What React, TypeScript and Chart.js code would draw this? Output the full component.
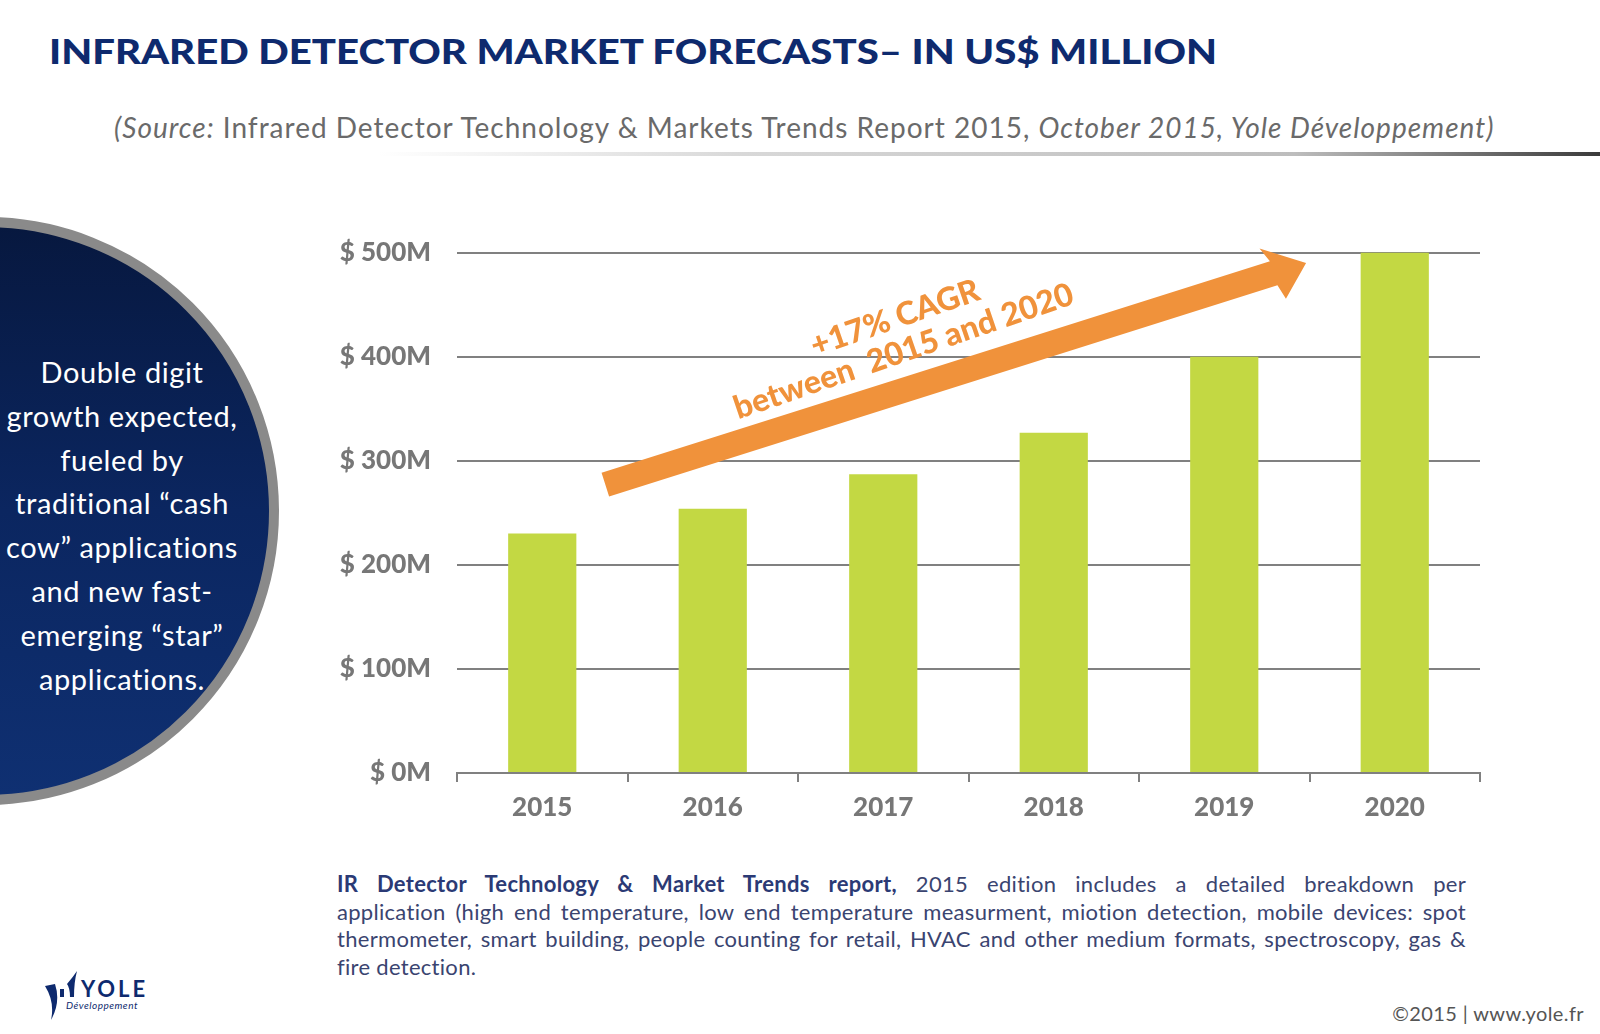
import React, { useEffect, useRef } from "react";
import { Chart, registerables } from "chart.js";

Chart.register(...registerables);

const years = ["2015", "2016", "2017", "2018", "2019", "2020"];
const marketValues = [230, 254, 287, 327, 400, 500];
const yTicks = [0, 100, 200, 300, 400, 500];
const cagrLines = ["+17% CAGR", "between  2015 and 2020"];

// annotation anchors in data units (category index, value)
const arrowFrom = [0.37, 277];
const arrowTo = [4.48, 490];
const textAnchors = [
  [2.07, 437],
  [2.12, 405],
];

const ORANGE = "#f0923b";
const GRAY = "#808080";
const LABEL = "#777777";
const NAVY = "#0e2a6e";
const FONT = "Lato, 'Open Sans', sans-serif";

const arrowPlugin = {
  id: "cagrArrow",
  afterDatasetsDraw(chart: any) {
    const { ctx, scales } = chart;
    const xs = scales.x;
    const ys = scales.y;
    const x0 = xs.getPixelForValue(0);
    const step = xs.getPixelForValue(1) - x0;
    const px = (p: number[]) => [x0 + p[0] * step, ys.getPixelForValue(p[1])];
    const [sx, sy] = px(arrowFrom);
    const [ex, ey] = px(arrowTo);
    const ang = Math.atan2(ey - sy, ex - sx);
    const len = Math.hypot(ex - sx, ey - sy);
    const half = 12.5;
    const headLen = 34;
    const headHalf = 28;
    ctx.save();
    ctx.translate(sx, sy);
    ctx.rotate(ang);
    ctx.fillStyle = ORANGE;
    ctx.beginPath();
    ctx.moveTo(0, -half);
    ctx.lineTo(len - headLen, -half);
    ctx.lineTo(len - headLen - 6, -headHalf);
    ctx.lineTo(len, 0);
    ctx.lineTo(len - headLen + 4, headHalf);
    ctx.lineTo(len - headLen, half);
    ctx.lineTo(0, half);
    ctx.closePath();
    ctx.fill();
    ctx.restore();

    cagrLines.forEach((t, i) => {
      const [tx, ty] = px(textAnchors[i]);
      ctx.save();
      ctx.translate(tx, ty);
      ctx.rotate((-19 * Math.PI) / 180);
      ctx.fillStyle = ORANGE;
      ctx.font = `900 32px ${FONT}`;
      ctx.textAlign = "center";
      ctx.textBaseline = "middle";
      ctx.fillText(t, 0, 0);
      ctx.restore();
    });
  },
};

function BarChart() {
  const ref = useRef<HTMLCanvasElement | null>(null);
  useEffect(() => {
    if (!ref.current) return;
    const chart = new Chart(ref.current, {
      type: "bar",
      data: {
        labels: years,
        datasets: [
          {
            data: marketValues,
            backgroundColor: "#c3d843",
            borderWidth: 0,
            barPercentage: 0.4,
            categoryPercentage: 1,
          },
        ],
      },
      options: {
        animation: false,
        responsive: true,
        maintainAspectRatio: false,
        layout: { padding: { top: 4, right: 20, left: 0, bottom: 0 } },
        plugins: { legend: { display: false }, tooltip: { enabled: false } },
        scales: {
          x: {
            offset: true,
            grid: {
              offset: true,
              drawOnChartArea: false,
              drawTicks: true,
              tickLength: 9,
              color: GRAY,
              lineWidth: 2,
            },
            border: { display: true, color: GRAY, width: 2 },
            ticks: {
              color: LABEL,
              padding: 10,
              font: { family: FONT, size: 26, weight: "900" },
            },
            afterFit(scale: any) {
              scale.height = 57;
            },
          },
          y: {
            min: 0,
            max: 500,
            afterBuildTicks(scale: any) {
              scale.ticks = yTicks.map((v) => ({ value: v }));
            },
            grid: { color: GRAY, lineWidth: 2, drawTicks: false },
            border: { display: false },
            ticks: {
              color: LABEL,
              padding: 26,
              font: { family: FONT, size: 26, weight: "900" },
              callback: (v: any) => `$ ${v}M`,
            },
            afterFit(scale: any) {
              scale.width = 137;
            },
          },
        },
      },
      plugins: [arrowPlugin],
    } as any);
    return () => chart.destroy();
  }, []);
  return (
    <div style={{ position: "absolute", left: 320, top: 211, width: 1180, height: 619 }}>
      <canvas ref={ref} />
    </div>
  );
}

const circleLines = [
  "Double digit",
  "growth expected,",
  "fueled by",
  "traditional \u201ccash",
  "cow\u201d applications",
  "and new fast-",
  "emerging \u201cstar\u201d",
  "applications.",
];

export default function App() {
  return (
    <div
      style={{
        position: "absolute",
        left: 0,
        top: 0,
        width: 1600,
        height: 1034,
        overflow: "hidden",
        background: "#ffffff",
        fontFamily: FONT,
      }}
    >
      <div
        style={{
          position: "absolute",
          left: 49,
          top: 30,
          fontSize: 34,
          fontWeight: 900,
          color: NAVY,
          whiteSpace: "nowrap",
          lineHeight: "42px",
          transform: "scaleX(1.18)",
          transformOrigin: "left center",
        }}
      >
        INFRARED DETECTOR MARKET FORECASTS– IN US$ MILLION
      </div>
      <div
        style={{
          position: "absolute",
          left: 114,
          top: 109,
          fontSize: 28,
          color: "#6a6a6a",
          whiteSpace: "nowrap",
          lineHeight: "36px",
          letterSpacing: "1px",
        }}
      >
        <i>(Source:</i> Infrared Detector Technology &amp; Markets Trends Report 2015,{" "}
        <i>October 2015, Yole Développement)</i>
      </div>
      <div
        style={{
          position: "absolute",
          left: 378,
          top: 152,
          width: 1222,
          height: 4,
          background:
            "linear-gradient(to right, rgba(255,255,255,0) 0%, #d8d8d8 30%, #bdbdbd 75%, #3a3a3a 100%)",
        }}
      />
      <div
        style={{
          position: "absolute",
          left: -309,
          top: 217,
          width: 588,
          height: 588,
          borderRadius: "50%",
          boxSizing: "border-box",
          border: "10px solid #8a8a8a",
          background: "linear-gradient(to bottom, #07183f 0%, #0b2660 50%, #0f3072 100%)",
        }}
      />
      <div
        style={{
          position: "absolute",
          left: 0,
          top: 350,
          width: 244,
          textAlign: "center",
          color: "#ffffff",
          fontSize: 29,
          letterSpacing: "0.6px",
          lineHeight: "43.8px",
          whiteSpace: "nowrap",
        }}
      >
        {circleLines.map((l, i) => (
          <div key={i}>{l}</div>
        ))}
      </div>
      <BarChart />
      <div
        style={{
          position: "absolute",
          left: 337,
          top: 870,
          width: 1129,
          fontSize: 22,
          letterSpacing: "0.3px",
          lineHeight: "27.5px",
          color: "#3a4470",
        }}
      >
        <div style={{ textAlign: "justify", textAlignLast: "justify" }}>
          <b style={{ color: "#2b3a75" }}>IR Detector Technology &amp; Market Trends report,</b> 2015 edition
          includes a detailed breakdown per
        </div>
        <div style={{ textAlign: "justify", textAlignLast: "justify" }}>
          application (high end temperature, low end temperature measurment, miotion detection, mobile devices: spot
        </div>
        <div style={{ textAlign: "justify", textAlignLast: "justify" }}>
          thermometer, smart building, people counting for retail, HVAC and other medium formats, spectroscopy, gas &amp;
        </div>
        <div>fire detection.</div>
      </div>
      <svg
        style={{ position: "absolute", left: 40, top: 968 }}
        width={120}
        height={54}
        viewBox="0 0 120 54"
      >
        <path d="M5 18 Q15 34 11 52 Q21 34 15 16 Z" fill={NAVY} />
        <path d="M20 21 L24 21 L24 29 L20 29 Z" fill={NAVY} />
        <path d="M27 16 Q33 9 37 3 Q34 14 34 29 L30 29 Q30 20 27 16 Z" fill={NAVY} />
        <text x={41} y={29} fontFamily={FONT} fontWeight="bold" fontSize={22} fill={NAVY} letterSpacing={3}>
          YOLE
        </text>
        <text x={26} y={41} fontFamily={FONT} fontStyle="italic" fontSize={10} fill={NAVY} letterSpacing={0.5}>
          Développement
        </text>
      </svg>
      <div
        style={{
          position: "absolute",
          right: 16,
          top: 1000,
          fontSize: 20,
          letterSpacing: "0.4px",
          color: "#555555",
          whiteSpace: "nowrap",
          lineHeight: "26px",
        }}
      >
        ©2015 | www.yole.fr
      </div>
    </div>
  );
}
